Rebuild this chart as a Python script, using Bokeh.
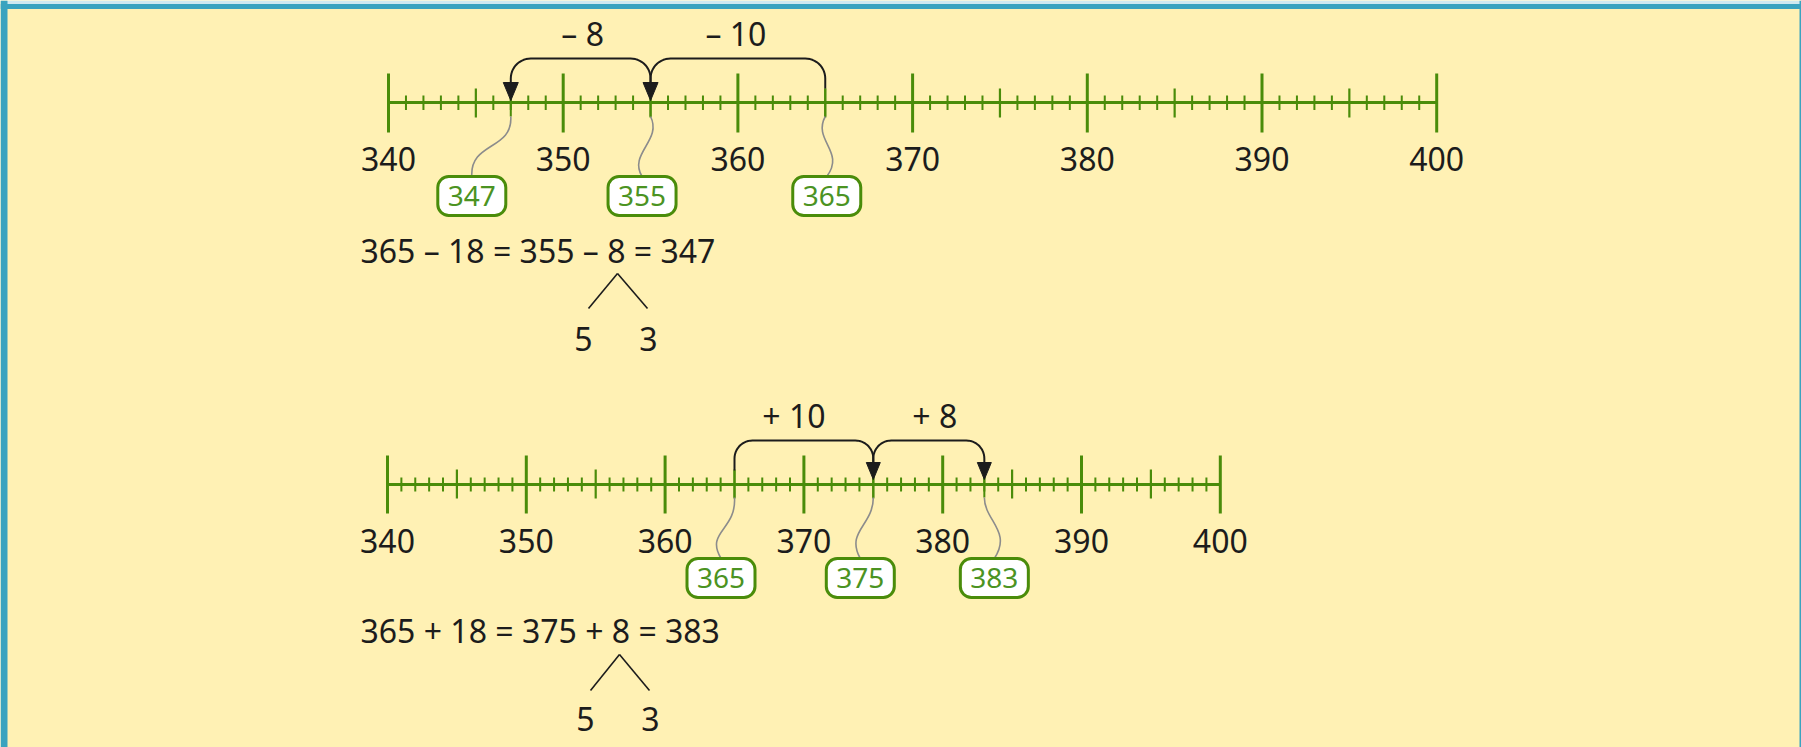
import numpy as np
from bokeh.plotting import figure
from bokeh.models import Range1d
from bokeh.core.properties import value
from bokeh.embed import file_html
from bokeh.resources import INLINE

# ---------------- data ----------------
line_start, line_end = 340, 400
major_ticks = [340, 350, 360, 370, 380, 390, 400]
major_labels = ["340", "350", "360", "370", "380", "390", "400"]

sub_points = [365, 355, 347]          # jumps backwards
sub_jump_labels = ["– 10", "– 8"]
sub_equation = "365 – 18 = 355 – 8 = 347"

add_points = [365, 375, 383]          # jumps forwards
add_jump_labels = ["+ 10", "+ 8"]
add_equation = "365 + 18 = 375 + 8 = 383"

split_parts = ["5", "3"]

# ---------------- layout / style ----------------
W, H = 1801, 747
OX, OY = 0, 0
FONT = "Noto Sans"
YELLOW = "#FFF1B4"
BLUE = "#3AA3BF"
LIGHTBLUE = "#CFE9F0"
GREEN = "#4A8C0A"
BOXGREEN = "#4B9322"
INK = "#1C1C1C"
GREY = "#8C8C8C"

S1, P1 = 17.47, 388.0   # px per unit, px of 340 (top line)
S2, P2 = 13.88, 387.0   # bottom line

x1s = line_start - (P1 - OX) / S1
x1e = x1s + W / S1
x2s = line_start - (P2 - OX) / S2
x2e = x2s + W / S2


def ux(px):
    return x1s + (px - OX) / S1


p = figure(width=W, height=H, x_range=Range1d(x1s, x1e),
           y_range=Range1d(OY + H, OY), output_backend="svg",
           toolbar_location=None, min_border=0)
p.extra_x_ranges = {"b": Range1d(x2s, x2e)}
p.xaxis.visible = False
p.yaxis.visible = False
p.grid.visible = False
p.outline_line_color = None
p.background_fill_color = YELLOW
p.border_fill_color = YELLOW

# frame border
p.quad(left=[ux(0)], right=[ux(1801)], top=[0], bottom=[3.5], fill_color=LIGHTBLUE, line_color=None)
p.quad(left=[ux(0)], right=[ux(1801)], top=[3.5], bottom=[8.5], fill_color=BLUE, line_color=None)
p.quad(left=[ux(0)], right=[ux(7)], top=[0], bottom=[747], fill_color=BLUE, line_color=None)
p.quad(left=[ux(1799)], right=[ux(1801)], top=[0], bottom=[747], fill_color=BLUE, line_color=None)


def text(x, y, t, size, color=INK, align="center", rname="default"):
    p.text(x=x, y=y, text=t, text_font=value(FONT), text_font_size=value(f"{size}px"),
           text_color=color, text_align=align, text_baseline="middle",
           x_range_name=rname)


def number_line(rname, S, pts, jump_labels, cfg, box_off, ctrl, label_dx):
    L = cfg["L"]
    ticks = list(range(line_start, line_end + 1))
    minor = [t for t in ticks if t % 5 != 0]
    mid = [t for t in ticks if t % 5 == 0 and t % 10 != 0]
    # base line
    p.segment(x0=[line_start], y0=[L], x1=[line_end], y1=[L], line_color=GREEN,
              line_width=3, x_range_name=rname)
    for tl, w, key in ((minor, 2, "minor"), (mid, 2.2, "mid"), (major_ticks, 3, "major")):
        a, b = cfg[key]
        p.segment(x0=tl, y0=[a] * len(tl), x1=tl, y1=[b] * len(tl), line_color=GREEN,
                  line_width=w, x_range_name=rname)
    a, b = cfg["marked"]
    p.segment(x0=pts, y0=[a] * len(pts), x1=pts, y1=[b] * len(pts), line_color=GREEN,
              line_width=2, x_range_name=rname)
    text(major_ticks, [cfg["label"]] * len(major_ticks), major_labels, 32, rname=rname)

    # jump arcs
    T, r, At, tip, hw = cfg["arc_top"], cfg["r"], cfg["arrow_top"], cfg["tip"], cfg["hw"]
    th = np.linspace(0, np.pi / 2, 14)
    for i in range(len(pts) - 1):
        a0, b0 = pts[i], pts[i + 1]
        d = 1 if b0 > a0 else -1
        D = (b0 - a0) * S
        y_start = cfg["marked"][0] if i == 0 else At
        xs_px = [0.0, 0.0] + list(d * r - d * r * np.cos(th)) + \
            list(D - d * r + d * r * np.cos(th[::-1])) + [D]
        ys = [y_start, T + r] + list(T + r - r * np.sin(th)) + \
            list(T + r - r * np.sin(th[::-1])) + [At + 2]
        p.line(x=[a0 + v / S for v in xs_px], y=ys, line_color=INK, line_width=2,
               x_range_name=rname)
        p.patches(xs=[[b0 - hw / S, b0 + hw / S, b0]], ys=[[At, At, tip]],
                  fill_color=INK, line_color=INK, line_width=1, x_range_name=rname)
        text([(a0 + b0) / 2 + label_dx[i] / S], [cfg["jump_label"]], [jump_labels[i]], 32,
             rname=rname)

    # boxes + connectors
    bt, bb, bw = cfg["box_top"], cfg["box_bot"], cfg["box_hw"]
    centers = [v + o / S for v, o in zip(pts, box_off)]
    y0 = cfg["marked"][1]
    for v, c, (dx0, dy0, dx1, dy1) in zip(pts, centers, ctrl):
        p.bezier(x0=[v], y0=[y0], x1=[c], y1=[bt],
                 cx0=[v + dx0 / S], cy0=[y0 + dy0], cx1=[c + dx1 / S], cy1=[bt - dy1],
                 line_color=GREY, line_width=1.6, x_range_name=rname)
    p.quad(left=[c - bw / S for c in centers], right=[c + bw / S for c in centers],
           top=[bt] * len(centers), bottom=[bb] * len(centers), fill_color="white",
           line_color=GREEN, line_width=3, border_radius=11, x_range_name=rname)
    text(centers, [(bt + bb) / 2] * len(centers), [str(v) for v in pts], 28,
         color=BOXGREEN, rname=rname)


top_cfg = dict(L=102, major=(73, 132), mid=(88, 117), minor=(95, 109.5), marked=(88, 116),
               label=158, arc_top=58, r=20, arrow_top=82, tip=100, hw=7.5, jump_label=33,
               box_top=176, box_bot=215, box_hw=34)
bot_cfg = dict(L=484, major=(455, 513), mid=(469, 498), minor=(477, 491), marked=(470, 497),
               label=540, arc_top=440, r=18, arrow_top=462, tip=479, hw=7, jump_label=415,
               box_top=558, box_bot=597, box_hw=34)

number_line("default", S1, sub_points, sub_jump_labels, top_cfg,
            box_off=[1.5, -8.5, -39],
            ctrl=[(-13, 24, 19, 25), (12, 24, -14, 23), (2, 34, -2, 35)],
            label_dx=[-2, 2])
number_line("b", S2, add_points, add_jump_labels, bot_cfg,
            box_off=[-13.5, -13, 10],
            ctrl=[(2, 33, -16, 27), (0, 28, -15, 27), (0, 23, 18, 27)],
            label_dx=[-10, 6])

# equations and decompositions
for eq, ey, apex, ends_y, dy in ((sub_equation, 250, (617, 273), 308, 338),
                                 (add_equation, 630, (619, 654), 690, 718)):
    text([ux(360)], [ey], [eq], 32, align="left")
    ax, ay = apex
    p.segment(x0=[ux(ax), ux(ax)], y0=[ay, ay], x1=[ux(ax - 29), ux(ax + 30)],
              y1=[ends_y, ends_y], line_color=INK, line_width=1.6)
    text([ux(ax - 34), ux(ax + 31)], [dy, dy], split_parts, 32)

open("out.html", "w").write(file_html(p, INLINE))
